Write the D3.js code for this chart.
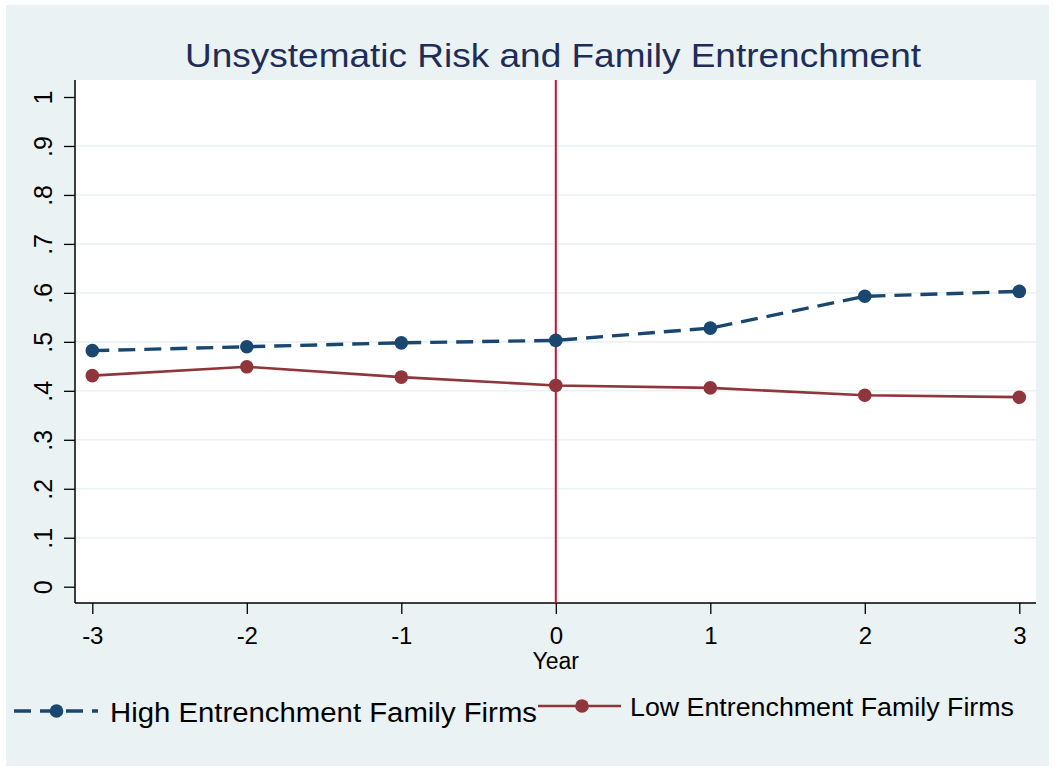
<!DOCTYPE html>
<html>
<head>
<meta charset="utf-8">
<script src="https://cdn.jsdelivr.net/npm/d3@7"></script>
<style>
  html, body { margin: 0; padding: 0; background: #ffffff; }
  svg { display: block; font-family: "Liberation Sans", Arial, sans-serif; }
</style>
</head>
<body>
<svg id="chart" width="1055" height="770"></svg>
<script>
// Event-time years relative to entrenchment (year 0)
const years = [-3, -2, -1, 0, 1, 2, 3];
// Mean unsystematic risk by group
const highEntrenchment = [0.482, 0.490, 0.498, 0.503, 0.528, 0.593, 0.603];
const lowEntrenchment  = [0.431, 0.449, 0.428, 0.411, 0.406, 0.391, 0.387];
const yTicks = [0, 0.1, 0.2, 0.3, 0.4, 0.5, 0.6, 0.7, 0.8, 0.9, 1];
const yTickLabels = ["0", ".1", ".2", ".3", ".4", ".5", ".6", ".7", ".8", ".9", "1"];
const eventYear = 0;
const titleText = "Unsystematic Risk and Family Entrenchment";
const xTitle = "Year";
const seriesNames = ["High Entrenchment Family Firms", "Low Entrenchment Family Firms"];

const colors = { bg: "#eaf2f3", blue: "#1a476f", red: "#90353b", event: "#c8102e", title: "#1e2d58" };

const svg = d3.select("#chart");

// Outer graph region
svg.append("rect").attr("x", 6).attr("y", 5).attr("width", 1043).attr("height", 761)
  .attr("fill", colors.bg);

// Plot region
const plot = { left: 75, right: 1036, top: 80, bottom: 603 };
svg.append("rect").attr("x", plot.left).attr("y", plot.top)
  .attr("width", plot.right - plot.left).attr("height", plot.bottom - plot.top)
  .attr("fill", "#ffffff");

const x = d3.scaleLinear().domain([-3, 3]).range([92.3, 1019.3]);
const y = d3.scaleLinear().domain([0, 1]).range([586.7, 97]);

// Horizontal grid lines
svg.append("g").selectAll("line").data(yTicks.filter(t => t > 0 && t < 1)).join("line")
  .attr("x1", plot.left).attr("x2", plot.right)
  .attr("y1", d => y(d)).attr("y2", d => y(d))
  .attr("stroke", colors.bg).attr("stroke-width", 1.6);

// Y axis
const yAxis = d3.axisLeft(y).tickValues(yTicks)
  .tickFormat((d, i) => yTickLabels[i]).tickSize(11).tickPadding(0);
const gy = svg.append("g").attr("transform", `translate(${plot.left},0)`).call(yAxis);
gy.select(".domain").attr("d", `M0,${plot.top}V${plot.bottom}`).attr("stroke", "#000").attr("stroke-width", 1.5);
gy.selectAll(".tick line").attr("stroke", "#000").attr("stroke-width", 1.3);
gy.selectAll(".tick text")
  .attr("font-size", 25).attr("fill", "#000")
  .attr("text-anchor", "middle").attr("dy", null)
  .attr("transform", "translate(-32,0) rotate(-90)")
  .attr("x", 0).attr("y", 0).attr("dominant-baseline", "central");

// X axis
const xAxis = d3.axisBottom(x).tickValues(years).tickFormat(d3.format("d")).tickSize(11).tickPadding(0);
const gx = svg.append("g").attr("transform", `translate(0,${plot.bottom})`).call(xAxis);
gx.select(".domain").attr("d", `M${plot.left},0H${plot.right}`).attr("stroke", "#000").attr("stroke-width", 1.5);
gx.selectAll(".tick line").attr("stroke", "#000").attr("stroke-width", 1.3);
gx.selectAll(".tick text").attr("font-size", 24).attr("fill", "#000")
  .attr("dy", null).attr("y", 41).text(d => d < 0 ? "-" + Math.abs(d) : d);

// X axis title
svg.append("text").attr("x", x(0)).attr("y", 669).attr("text-anchor", "middle")
  .attr("font-size", 23).attr("fill", "#000").text(xTitle);

// Vertical reference line at the event year
svg.append("line").attr("x1", x(eventYear)).attr("x2", x(eventYear))
  .attr("y1", plot.top).attr("y2", plot.bottom)
  .attr("stroke", colors.event).attr("stroke-width", 2);

// Series
const line = d3.line().x((d, i) => x(years[i])).y(d => y(d));

svg.append("path").datum(lowEntrenchment).attr("d", line)
  .attr("fill", "none").attr("stroke", colors.red).attr("stroke-width", 2.6);
svg.append("path").datum(highEntrenchment).attr("d", line)
  .attr("fill", "none").attr("stroke", colors.blue).attr("stroke-width", 3.4)
  .attr("stroke-dasharray", "17,9");

svg.append("g").selectAll("circle").data(lowEntrenchment).join("circle")
  .attr("cx", (d, i) => x(years[i])).attr("cy", d => y(d)).attr("r", 6.8).attr("fill", colors.red);
svg.append("g").selectAll("circle").data(highEntrenchment).join("circle")
  .attr("cx", (d, i) => x(years[i])).attr("cy", d => y(d)).attr("r", 6.8).attr("fill", colors.blue);

// Title
svg.append("text").attr("x", 553).attr("y", 67).attr("text-anchor", "middle")
  .attr("font-size", 34).attr("fill", colors.title)
  .attr("textLength", 736).attr("lengthAdjust", "spacingAndGlyphs")
  .text(titleText);

// Legend
const lg = svg.append("g");
lg.append("line").attr("x1", 14).attr("x2", 98).attr("y1", 711).attr("y2", 711)
  .attr("stroke", colors.blue).attr("stroke-width", 3.4).attr("stroke-dasharray", "17,9");
lg.append("circle").attr("cx", 56.5).attr("cy", 711).attr("r", 6.8).attr("fill", colors.blue);
lg.append("text").attr("x", 110).attr("y", 722).attr("font-size", 27).attr("fill", "#000")
  .attr("textLength", 427).attr("lengthAdjust", "spacingAndGlyphs").text(seriesNames[0]);

lg.append("line").attr("x1", 538).attr("x2", 621).attr("y1", 706).attr("y2", 706)
  .attr("stroke", colors.red).attr("stroke-width", 2.6);
lg.append("circle").attr("cx", 582).attr("cy", 706).attr("r", 6.8).attr("fill", colors.red);
lg.append("text").attr("x", 630).attr("y", 716).attr("font-size", 25).attr("fill", "#000")
  .attr("textLength", 384).attr("lengthAdjust", "spacingAndGlyphs").text(seriesNames[1]);
</script>
</body>
</html>
